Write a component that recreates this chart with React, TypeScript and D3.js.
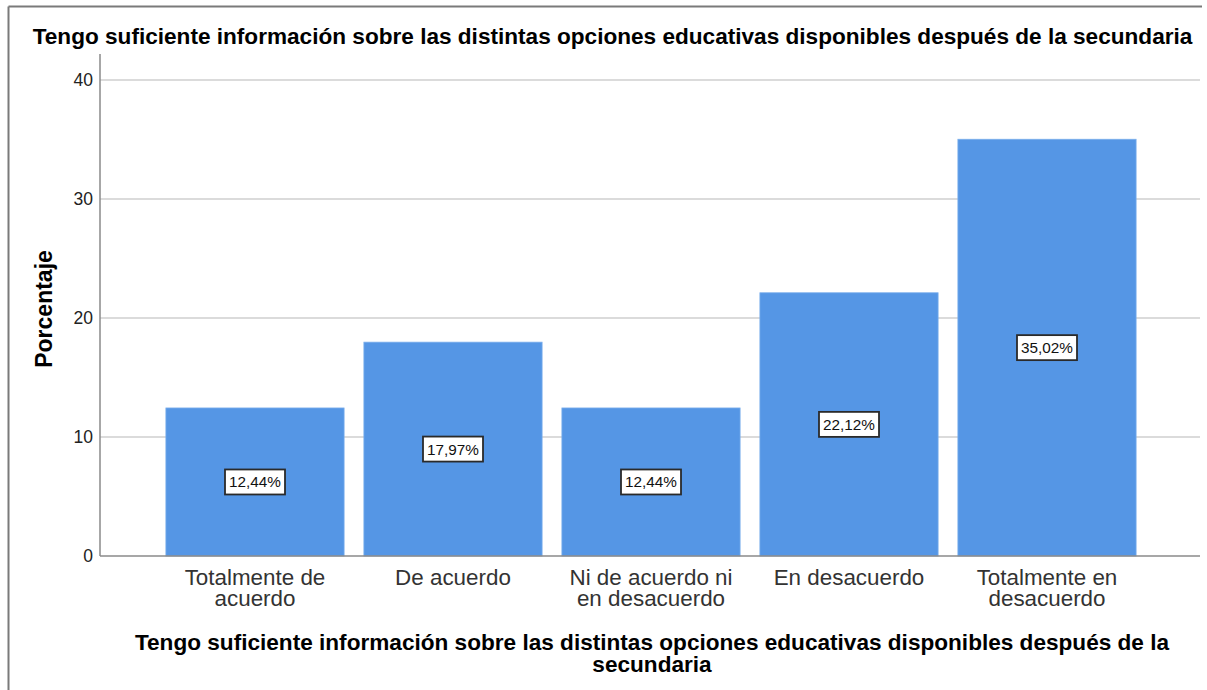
import React from "react";
import * as d3 from "d3";

const categories: string[][] = [
  ["Totalmente de", "acuerdo"],
  ["De acuerdo"],
  ["Ni de acuerdo ni", "en desacuerdo"],
  ["En desacuerdo"],
  ["Totalmente en", "desacuerdo"],
];
const values: number[] = [12.44, 17.97, 12.44, 22.12, 35.02];
const yTicks: number[] = [0, 10, 20, 30, 40];
const titleText =
  "Tengo suficiente información sobre las distintas opciones educativas disponibles después de la secundaria";
const xTitleLines = [
  "Tengo suficiente información sobre las distintas opciones educativas disponibles después de la",
  "secundaria",
];
const yTitle = "Porcentaje";

const W = 1207;
const H = 690;
const plotLeft = 100;
const plotRight = 1200;
const plotTop = 54;
const plotBottom = 556;
const FONT = "'Liberation Sans', Arial, sans-serif";

export default function App() {
  const y = d3.scaleLinear().domain([0, 40]).range([plotBottom, 80]);
  const x = d3
    .scaleBand<number>()
    .domain(values.map((_, i) => i))
    .range([156, 1146])
    .paddingInner(0.1)
    .paddingOuter(0.05);
  const fmt = (v: number) => v.toFixed(2).replace(".", ",") + "%";

  return (
    <svg
      width={W}
      height={H}
      style={{ position: "absolute", left: 0, top: 0, display: "block" }}
      fontFamily={FONT}
    >
      <rect x={0} y={0} width={W} height={H} fill="#fff" />
      {/* frame */}
      <line x1={8.5} x2={1202} y1={6.5} y2={6.5} stroke="#7a7a7a" strokeWidth={2} />
      <line x1={8.5} x2={8.5} y1={6.5} y2={H} stroke="#7a7a7a" strokeWidth={2} />

      {/* title */}
      <text x={612.5} y={44} textAnchor="middle" fontWeight="bold" fontSize={22.6} fill="#000">
        {titleText}
      </text>

      {/* gridlines */}
      {yTicks
        .filter((t) => t > 0)
        .map((t) => (
          <line
            key={t}
            x1={plotLeft}
            x2={plotRight}
            y1={y(t)}
            y2={y(t)}
            stroke="#cfcfcf"
            strokeWidth={1.5}
          />
        ))}

      {/* bars */}
      {values.map((v, i) => (
        <rect
          key={i}
          x={x(i)}
          y={y(v)}
          width={x.bandwidth()}
          height={plotBottom - y(v)}
          fill="#5596e5"
          stroke="#7aaeec"
          strokeWidth={0.8}
        />
      ))}

      {/* axes */}
      <line x1={plotLeft} x2={plotLeft} y1={plotTop} y2={plotBottom} stroke="#8a8a8a" strokeWidth={1.5} />
      <line x1={plotLeft} x2={plotRight} y1={plotBottom} y2={plotBottom} stroke="#8a8a8a" strokeWidth={1.5} />

      {/* y tick labels */}
      {yTicks.map((t) => (
        <text
          key={t}
          x={93}
          y={y(t)}
          dy="0.36em"
          textAnchor="end"
          fontSize={17.5}
          fill="#222"
        >
          {t}
        </text>
      ))}

      {/* value labels */}
      {values.map((v, i) => {
        const cx = (x(i) as number) + x.bandwidth() / 2;
        const cy = y(v / 2);
        const bw = 60;
        const bh = 25;
        return (
          <g key={i}>
            <rect
              x={cx - bw / 2}
              y={cy - bh / 2}
              width={bw}
              height={bh}
              fill="#fff"
              stroke="#2a2a2a"
              strokeWidth={1.8}
            />
            <text x={cx} y={cy} dy="0.36em" textAnchor="middle" fontSize={15.3} fill="#111">
              {fmt(v)}
            </text>
          </g>
        );
      })}

      {/* category labels */}
      {categories.map((lines, i) => {
        const cx = (x(i) as number) + x.bandwidth() / 2;
        return (
          <text key={i} textAnchor="middle" fontSize={22.4} fill="#333">
            {lines.map((l, j) => (
              <tspan key={j} x={cx} y={585 + j * 21}>
                {l}
              </tspan>
            ))}
          </text>
        );
      })}

      {/* x axis title */}
      <text textAnchor="middle" fontWeight="bold" fontSize={22.6} fill="#000">
        {xTitleLines.map((l, j) => (
          <tspan key={j} x={652} y={650 + j * 22}>
            {l}
          </tspan>
        ))}
      </text>

      {/* y axis title */}
      <text
        transform={`translate(52, ${(plotTop + plotBottom) / 2 + 4}) rotate(-90)`}
        textAnchor="middle"
        fontWeight="bold"
        fontSize={23}
        fill="#000"
      >
        {yTitle}
      </text>
    </svg>
  );
}
